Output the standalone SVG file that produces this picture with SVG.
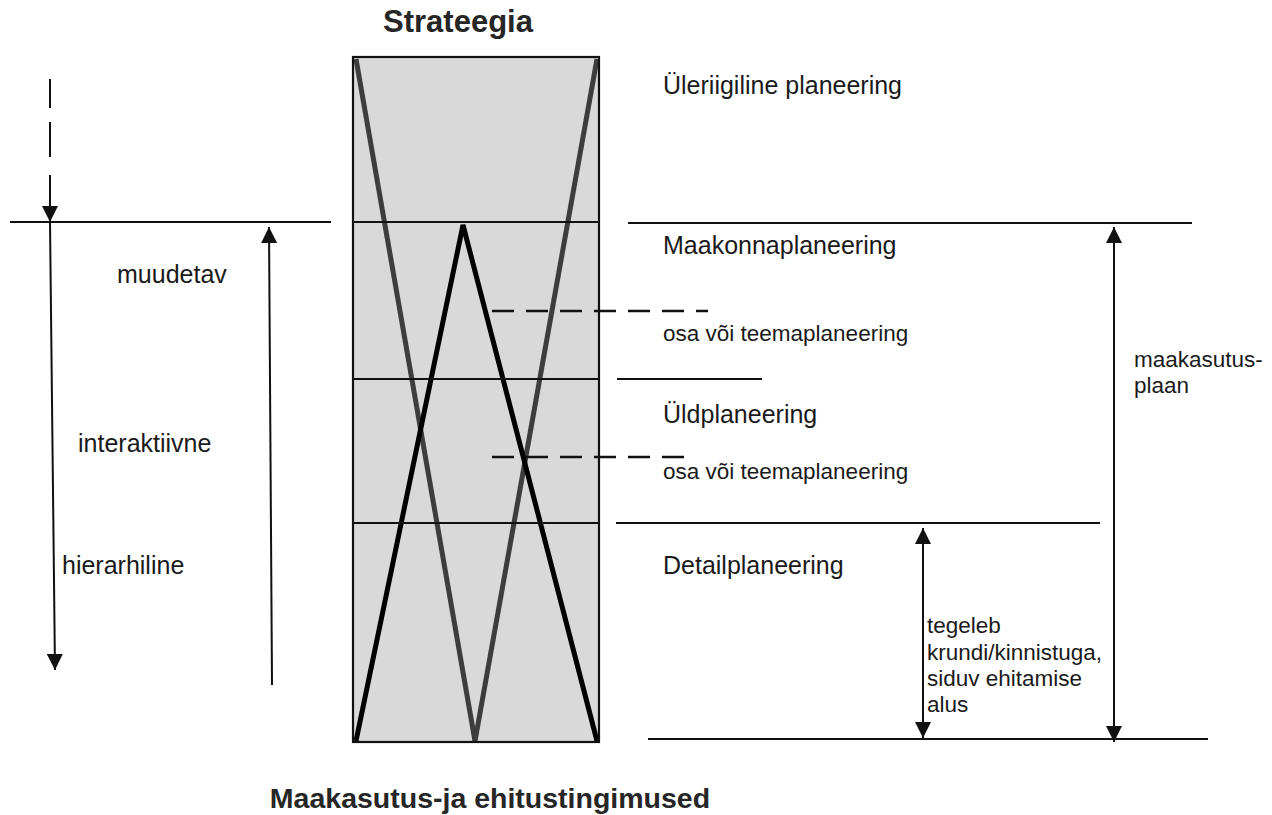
<svg xmlns="http://www.w3.org/2000/svg" width="1272" height="815" viewBox="0 0 1272 815">
<style>
.t{font-family:"Liberation Sans",Arial,sans-serif;fill:#1a1a1a}
.h{font-size:25px}
.s{font-size:22.5px}
.b{font-weight:bold;fill:#262626}
.ln{stroke:#111;stroke-width:2.2;fill:none}
.dash{stroke:#111;stroke-width:2.5;fill:none;stroke-dasharray:22 12}
.ar{stroke:#111;stroke-width:2;fill:none}
.gray{stroke:#3d3d3d;stroke-width:5;fill:none}
.blk{stroke:#000;stroke-width:5;fill:none;stroke-linejoin:miter}
</style>
<defs>
<marker id="ah" markerUnits="userSpaceOnUse" markerWidth="16" markerHeight="16" viewBox="0 0 15 15" refX="15" refY="7.5" orient="auto-start-reverse">
<path d="M0,0 L15,7.5 L0,15 z" fill="#111"/>
</marker>
</defs>
<rect width="1272" height="815" fill="#fff"/>

<g id="column">
<rect x="353" y="57" width="246" height="685" fill="#d9d9d9" stroke="none"/>
<line class="gray" x1="356" y1="59" x2="475" y2="741"/>
<line class="gray" x1="597" y1="59" x2="475" y2="741"/>
<polyline class="blk" points="356,741 463,225 597,741"/>
<line class="ln" x1="353" y1="222" x2="599" y2="222"/>
<line class="ln" x1="353" y1="379" x2="599" y2="379"/>
<line class="ln" x1="353" y1="523" x2="599" y2="523"/>
<rect x="353" y="57" width="246" height="685" fill="none" stroke="#111" stroke-width="2.2"/>
</g>

<g id="connectors">
<line class="ln" x1="10" y1="222" x2="331" y2="222"/>
<line class="ln" x1="628" y1="223" x2="1192" y2="223"/>
<line class="ln" x1="617" y1="379" x2="762" y2="379"/>
<line class="ln" x1="616" y1="523" x2="1100" y2="523"/>
<line class="ln" x1="648" y1="739" x2="1208" y2="739"/>
<line class="dash" x1="492" y1="311" x2="708" y2="311"/>
<line class="dash" x1="492" y1="457" x2="695" y2="457"/>
<line class="ar" x1="50" y1="79" x2="50" y2="108"/>
<line class="ar" x1="50" y1="122" x2="50" y2="157"/>
<line class="ar" x1="50" y1="175" x2="50" y2="222" marker-end="url(#ah)"/>
<line class="ar" x1="50" y1="222" x2="55" y2="670" marker-end="url(#ah)"/>
<line class="ar" x1="272" y1="685" x2="269" y2="227" marker-end="url(#ah)"/>
<line class="ar" x1="923" y1="528" x2="923" y2="738" marker-start="url(#ah)" marker-end="url(#ah)"/>
<line class="ar" x1="1114" y1="227" x2="1114" y2="742" marker-start="url(#ah)" marker-end="url(#ah)"/>
</g>

<g id="strateegia"><text class="t b" x="458" y="32" font-size="31" text-anchor="middle">Strateegia</text></g>
<g id="bottom-title"><text class="t b" x="490" y="808" font-size="28.5" text-anchor="middle">Maakasutus-ja ehitustingimused</text></g>
<g id="yleriigiline"><text class="t h" x="663" y="94">Üleriigiline planeering</text></g>
<g id="maakond"><text class="t h" x="663" y="254">Maakonnaplaneering</text></g>
<g id="osa1"><text class="t s" x="663" y="341">osa või teemaplaneering</text></g>
<g id="yld"><text class="t h" x="663" y="423">Üldplaneering</text></g>
<g id="osa2"><text class="t s" x="663" y="479">osa või teemaplaneering</text></g>
<g id="detail"><text class="t h" x="663" y="574">Detailplaneering</text></g>
<g id="tegeleb"><text class="t s" x="927" y="633"><tspan x="927" y="633">tegeleb</tspan><tspan x="927" y="660">krundi/kinnistuga,</tspan><tspan x="927" y="686">siduv ehitamise</tspan><tspan x="927" y="712">alus</tspan></text></g>
<g id="maakasutusplaan"><text class="t s" x="1134" y="367"><tspan x="1134" y="367">maakasutus-</tspan><tspan x="1134" y="393">plaan</tspan></text></g>
<g id="muudetav"><text class="t h" x="117" y="283">muudetav</text></g>
<g id="interaktiivne"><text class="t h" x="78" y="452">interaktiivne</text></g>
<g id="hierarhiline"><text class="t h" x="62" y="574">hierarhiline</text></g>
</svg>
